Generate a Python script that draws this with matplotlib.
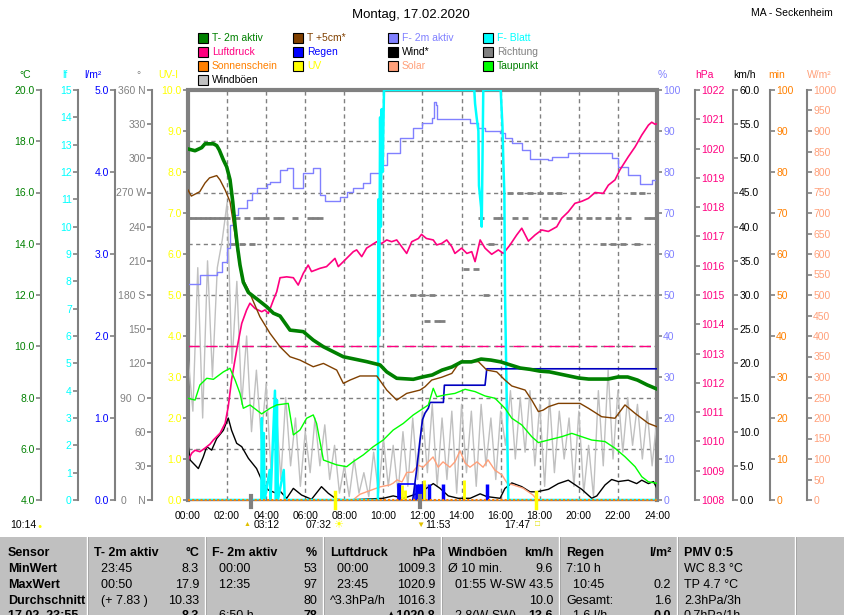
import numpy as np
import matplotlib
matplotlib.use('Agg')
import matplotlib.pyplot as plt
import matplotlib.transforms as mtrans
from matplotlib.patches import Rectangle
from matplotlib.lines import Line2D

plt.rcParams['font.family'] = ['Liberation Sans', 'DejaVu Sans']

# ---- data (hours since midnight) ----
t2m_t = [0, 0.36, 0.7, 0.87, 1.3, 1.47, 1.6, 1.81, 1.98, 2.15, 2.29, 2.41, 2.52, 2.66, 2.83, 3.09,
         3.6, 4.03, 4.37, 4.71, 5.22, 5.9, 6.41, 6.93, 7.95, 9.14, 9.83, 10.17, 10.68, 11.53,
         12.0, 12.5, 13.0, 13.5, 14.0, 14.5, 15.0, 15.5, 16.0, 16.5, 17.0, 17.5, 18.0, 18.5,
         19.0, 19.5, 20.0, 20.5, 21.0, 21.5, 22.0, 22.5, 23.0, 23.5, 24.0]
t2m_v = [17.7, 17.63, 17.75, 17.9, 17.9, 17.83, 17.66, 17.27, 17.0, 16.5, 15.64, 14.7, 13.95, 13.17,
         12.5, 12.1, 11.8, 11.54, 11.29, 11.18, 10.63, 10.57, 10.24, 9.98, 9.59, 9.4, 9.27, 9.0,
         8.75, 8.71, 8.8, 8.88, 9.07, 9.19, 9.39, 9.39, 9.5, 9.46, 9.39, 9.27, 9.15, 9.1, 9.03,
         9.0, 8.92, 8.84, 8.76, 8.72, 8.72, 8.72, 8.8, 8.8, 8.68, 8.49, 8.33]

t5_t = [0, 0.17, 0.6, 0.87, 1.1, 1.47, 1.64, 1.9, 2.15, 2.32, 2.49, 2.75, 3.09, 3.68, 4.2, 4.71,
        5.22, 5.73, 6.41, 6.93, 7.61, 7.95, 8.29, 8.8, 9.66, 10.17, 10.68, 11.19, 11.87, 12.13,
        12.47, 12.98, 13.5, 13.92, 14.86, 15.29, 15.8, 16.22, 16.57, 17.25, 17.59, 17.93, 18.18,
        18.44, 18.95, 20.06, 20.49, 21.17, 21.85, 22.36, 22.88, 23.56, 24.0]
t5_v = [16.1, 15.86, 16.03, 16.37, 16.57, 16.66, 16.49, 16.1, 15.64, 14.8, 13.9, 12.7, 12.2, 11.15,
        10.5, 9.98, 9.59, 9.46, 9.2, 9.33, 9.07, 8.55, 8.68, 8.84, 8.84, 8.29, 7.9, 8.16, 8.29,
        8.42, 8.68, 8.79, 8.94, 9.4, 9.4, 9.07, 9.0, 8.68, 8.45, 8.29, 7.9, 7.45, 7.51, 7.64, 7.77,
        7.77, 7.58, 7.25, 7.19, 7.71, 7.38, 6.99, 6.86]

dew_t = [0, 0.36, 0.61, 0.96, 1.3, 1.81, 2.15, 2.41, 2.66, 2.83, 3.17, 3.77, 4.2, 4.54, 5.13, 5.39,
         5.73, 6.07, 6.41, 6.58, 6.93, 7.61, 8.12, 8.46, 8.97, 9.48, 9.99, 10.5, 11.02, 11.53,
         12.3, 12.55, 12.73, 13.15, 13.66, 14.18, 14.69, 15.2, 15.71, 16.22, 16.57, 17.08, 17.59,
         17.93, 18.44, 19.12, 19.64, 20.15, 20.66, 21.34, 21.85, 22.36, 22.88, 23.22, 23.56, 24.0]
dew_v = [7.97, 7.9, 8.49, 8.75, 8.71, 9.0, 9.14, 8.68, 8.16, 7.58, 7.71, 7.36, 7.58, 7.71, 7.77,
         6.54, 6.73, 7.19, 7.32, 6.99, 5.56, 5.37, 5.3, 5.5, 5.76, 6.08, 6.34, 6.73, 6.99, 7.32,
         7.71, 8.36, 8.03, 8.1, 8.16, 8.32, 8.23, 8.06, 7.97, 7.58, 7.19, 6.93, 6.47, 6.24, 6.34,
         6.47, 6.6, 6.47, 6.34, 6.28, 6.02, 5.69, 5.3, 4.91, 4.71, 4.65]

hum_t = [0, 0.43, 0.6, 1.3, 1.47, 1.74, 1.98, 2.15, 2.32, 2.58, 3.0, 3.26, 3.51, 4.03, 4.2, 4.71,
         5.05, 5.39, 5.56, 5.9, 6.41, 6.75, 7.0, 7.78, 8.12, 8.46, 8.97, 9.31, 9.82, 10.16, 10.84,
         11.53, 11.95, 12.47, 12.6, 12.67, 12.73, 14.27, 14.44, 14.86, 15.2, 15.97, 16.22, 16.57,
         17.08, 17.5, 18.44, 18.61, 19.46, 21.25, 21.68, 22.02, 22.53, 23.13, 23.73, 23.76, 24.0]
hum_v = [52.8, 52.8, 54.9, 54.9, 55.7, 58.1, 61.4, 67, 69.5, 71.1, 73.2, 74.8, 76, 77, 77.6, 80.5,
         80.9, 76, 76, 79.7, 80.9, 74.4, 72.9, 74, 75.2, 76, 77.2, 79.7, 81.7, 84.6, 88.2, 90.7,
         91.9, 93.1, 97.1, 96.3, 92.9, 92.9, 91.9, 90.8, 90, 89.4, 88.2, 87, 85.4, 83.2, 82.9, 83.7,
         84.7, 84.7, 83.3, 81.3, 79.3, 77, 77, 78, 78]

pres_t = [0, 0.19, 0.36, 0.61, 0.87, 1.13, 1.3, 1.64, 1.9, 2.06, 2.23, 2.49, 2.75, 3.0, 3.17, 3.43,
          3.77, 3.94, 4.11, 4.37, 4.54, 4.71, 5.05, 5.39, 5.64, 5.9, 6.15, 6.32, 6.75, 7.09, 7.52,
          7.69, 7.95, 8.46, 8.63, 8.89, 9.14, 9.4, 9.66, 9.91, 10.17, 10.42, 10.68, 11.19, 11.45,
          11.79, 11.95, 12.2, 12.55, 12.73, 12.98, 13.24, 13.5, 13.66, 14.0, 14.27, 14.52, 14.69,
          14.95, 15.2, 15.54, 15.88, 16.14, 16.48, 16.82, 17.08, 17.42, 17.76, 18.1, 18.44, 18.87,
          19.12, 19.46, 19.8, 20.15, 20.49, 20.83, 21.25, 21.51, 21.85, 22.1, 22.53, 22.88, 23.22,
          23.56, 23.73, 23.9, 24.0]
pres_v = [1009.35, 1009.6, 1009.7, 1009.65, 1009.77, 1009.91, 1010.05, 1010.28, 1010.62, 1011.19,
          1012.1, 1013.12, 1014.03, 1014.49, 1014.72, 1014.54, 1014.43, 1014.49, 1014.37, 1014.83,
          1015.11, 1015.59, 1015.62, 1015.59, 1015.34, 1015.74, 1016.02, 1015.8, 1015.91, 1015.97,
          1016.25, 1015.97, 1016.14, 1016.48, 1016.54, 1016.31, 1016.6, 1016.71, 1016.82, 1016.76,
          1016.88, 1016.82, 1016.88, 1016.42, 1016.82, 1016.93, 1017.07, 1016.93, 1016.88, 1016.71,
          1016.76, 1016.88, 1016.65, 1016.42, 1016.6, 1016.42, 1016.48, 1016.14, 1016.88, 1016.6,
          1016.39, 1016.54, 1016.42, 1016.71, 1017.05, 1017.28, 1016.84, 1017.05, 1017.22, 1017.17,
          1017.33, 1017.62, 1017.84, 1018.13, 1018.2, 1018.3, 1018.5, 1018.47, 1018.75, 1018.93,
          1019.27, 1019.72, 1020.06, 1020.46, 1020.8, 1020.9, 1020.83, 1020.85]
pres_norm = 1013.25

wind_t = [0, 0.11, 0.53, 0.78, 0.96, 1.21, 1.47, 1.81, 2.06, 2.23, 2.49, 2.75, 3.09, 3.51, 3.85,
          4.11, 4.45, 4.71, 5.05, 5.39, 5.81, 6.32, 6.83, 7.18, 7.61, 8.12, 9.99, 10.5, 11.02,
          11.53, 11.94, 12.55, 12.9, 13.32, 13.83, 14.44, 14.95, 15.29, 15.97, 16.22, 16.57, 17.08,
          17.5, 17.85, 18.44, 18.95, 19.46, 20.15, 20.66, 20.92, 21.34, 21.68, 22.02, 22.53, 22.96,
          23.22, 23.56, 23.82, 24.0]
wind_v = [8.05, 5.85, 4.6, 6.3, 7.8, 7.3, 9.0, 10.2, 12.0, 10.2, 8.3, 7.8, 6.1, 4.6, 2.4, 1.46,
          1.07, 1.3, 0.25, 1.7, 0.73, 0.1, 1.95, 0.98, 0.1, 0.0, 0.25, 0.6, 0.25, 0.73, 1.2, 2.4,
          1.7, 0.6, 0.25, 0.25, 0.9, 0.5, 0.25, 1.7, 2.5, 1.95, 1.2, 1.2, 1.56, 2.4, 2.9, 1.56,
          0.25, 0.6, 2.2, 3.0, 2.7, 2.9, 2.4, 2.9, 2.4, 2.7, 1.7]

# gusts and direction: one value every 15 minutes
gust_v = [21, 13, 34, 12, 35, 18, 34, 38, 43.5, 20, 32, 14, 24, 10, 19, 9, 17, 4, 14, 3, 15, 5,
          12, 2, 10, 4, 12, 5, 11, 3, 8, 1, 5, 0.5, 6, 1, 4, 0.5, 7, 1, 9, 2, 8, 1, 10, 2, 12, 3,
          13, 4, 14, 2, 12, 3, 13, 1, 14, 4, 13, 2, 14, 5, 12, 3, 13, 8, 16, 6, 15, 7, 16, 5, 14,
          2, 15, 4, 13, 6, 12, 2, 13, 1, 8, 0.5, 16, 5, 19, 6, 16, 7, 15, 8, 14, 6, 13, 5, 12]
nan = np.nan
dir_v = [247.5] * 9 + [225, 247.5, 225, 247.5, 225, 247.5, 247.5, 247.5,
         nan, 247.5, 247.5, nan, nan, 247.5, nan, nan, 247.5, 247.5, 247.5, nan] + [nan] * 17 + \
        [180, nan, 180, 157.5, 180, 157.5, 157.5, nan, nan, nan, nan,
         202.5, nan, 202.5, 247.5, 180, 225, 247.5, 247.5, nan, 270, 247.5, 270, 247.5, 270, nan,
         270, 247.5, 270, 247.5, 270, nan, 247.5, nan, 247.5, nan, 247.5, nan, 247.5, 225, 247.5,
         225, 247.5, 225, 247.5, 270, 225, 270, 247.5, 247.5, 247.5]

leaf_t = [0, 3.75, 3.78, 3.82, 3.88, 3.92, 4.18, 4.22, 4.45, 4.5, 4.55, 4.6, 4.9, 4.95, 9.72, 9.74,
          9.78, 9.83, 9.87, 9.91, 9.96, 10.03, 14.65, 14.69, 14.77, 14.86, 14.89, 15.0, 15.03,
          15.11, 16.0, 16.09, 16.14, 16.19, 16.22, 16.39, 24]
leaf_v = [0, 0, 3.0, 0, 2.45, 0, 1.1, 0, 4.0, 0, 3.66, 0, 1.1, 0, 0, 11.0, 6.0, 14.0, 10.0, 14.3,
          12.0, 15, 15, 14.5, 14.0, 13.5, 11.5, 10.7, 10.0, 15, 15, 13.7, 12.3, 11.2, 7.7, 0, 0]

sol_t = [8.44, 8.8, 9.14, 9.83, 10.34, 10.5, 10.7, 10.95, 11.19, 11.5, 11.77, 12.03, 12.54, 12.8,
         13.05, 13.4, 13.66, 13.92, 14.18, 14.43, 14.79, 15.1, 15.35, 15.7, 16.07, 16.33, 16.63,
         17.14, 17.66, 17.86]
sol_v = [0, 14, 20, 32, 37, 41, 49, 44, 67, 68, 85, 80, 105, 80, 93, 80, 93, 120, 90, 80, 93, 80,
         98, 73, 61, 41, 37, 29, 12, 0]

sun_t = [0, 24]
sun_v = [0, 0]

uv_t = [10.95, 11.12, 12.1, 14.1]
uv_v = [0.37, 0.24, 0.5, 0.5]

rain_t = [10.8, 11.7, 11.8, 11.9, 12.0, 12.1, 12.34, 13.07, 15.29]
rain_v = [0.2, 0.2, 0.2, 0.2, 0.2, 0.2, 0.2, 0.2, 0.2]
rainbox_t = [10.76, 10.76, 11.61, 11.61]
rainbox_v = [0, 0.2, 0.2, 0]
rsum_t = [11.5, 11.7, 11.87, 12.0, 12.13, 12.3, 12.38, 13.07, 13.12, 15.2, 15.29, 24]
rsum_v = [0, 0.37, 0.73, 0.98, 1.06, 1.12, 1.19, 1.19, 1.40, 1.40, 1.60, 1.60]

moon_t = [3.2, 11.883]
sunrs_t = [7.533, 17.783]

leg_names = ['T- 2m aktiv', 'T +5cm*', 'F- 2m aktiv', 'F- Blatt',
             'Luftdruck', 'Regen', 'Wind*', 'Richtung',
             'Sonnenschein', 'UV', 'Solar', 'Taupunkt', 'Windböen']
leg_box = ['#008000', '#804000', '#8080ff', '#00ffff',
           '#ff0080', '#0000ff', '#000000', '#808080',
           '#ff8000', '#ffff00', '#ffa07a', '#00ff00', '#c0c0c0']
leg_txt = ['#008000', '#804000', '#8080ff', '#00ffff',
           '#ff0080', '#0000ff', '#000000', '#808080',
           '#ff8000', '#ffff00', '#ffa07a', '#008000', '#000000']

tab_head = ['Sensor', 'MinWert', 'MaxWert', 'Durchschnitt', '17.02. 23:55']
tab_cols = [
    [('T- 2m aktiv', '°C'), ('  23:45', '8.3'), ('  00:50', '17.9'), ('  (+ 7.83 )', '10.33'), ('', '8.3')],
    [('F- 2m aktiv', '%'), ('  00:00', '53'), ('  12:35', '97'), ('', '80'), ('  6:50 h', '78')],
    [('Luftdruck', 'hPa'), ('  00:00', '1009.3'), ('  23:45', '1020.9'), ('^3.3hPa/h', '1016.3'), ('', '▲1020.8')],
    [('Windböen', 'km/h'), ('Ø 10 min.', '9.6'), ('  01:55', 'W-SW 43.5'), ('', '10.0'), ('  2.8(W-SW)', '13.6')],
    [('Regen', 'l/m²'), ('7:10 h', ''), ('  10:45', '0.2'), ('Gesamt:', '1.6'), ('  1.6 l/h', '0.0')],
    [('PMV 0:5', ''), ('WC 8.3 °C', ''), ('TP 4.7 °C', ''), ('2.3hPa/3h', ''), ('0.7hPa/1h', '')],
]

# ---- layout (pixels) ----
W, H = 845, 615
L, R, T, B = 188, 657, 90, 500
GRAY = '#808080'
fig = plt.figure(figsize=(W / 100, H / 100), dpi=100)
rect = [L / W, 1 - B / H, (R - L) / W, (B - T) / H]


def fx(x):
    return x / W


def fy(y):
    return 1 - y / H


def scale_axes(lo, hi, step, color, side, xpix, fmt, z, names=None):
    a = fig.add_axes(rect)
    a.set_zorder(z)
    a.patch.set_visible(False)
    a.set_xlim(0, 24)
    a.set_ylim(lo, hi)
    for s in a.spines.values():
        s.set_visible(False)
    sp = a.spines[side]
    sp.set_visible(True)
    sp.set_position(('axes', (xpix - L) / (R - L)))
    sp.set_color(GRAY)
    sp.set_linewidth(1.5)
    n = int(round((hi - lo) / step))
    ticks = [lo + k * step for k in range(n + 1)]
    a.yaxis.set_ticks_position(side)
    a.set_yticks(ticks)
    labs = [fmt.format(t) for t in ticks]
    if names:
        labs = [names.get(int(t), l) for t, l in zip(ticks, labs)]
    a.set_yticklabels(labs)
    a.tick_params(axis='y', direction='out', length=3.5, width=1.2, color=GRAY,
                  labelcolor=color, labelsize=7.5, pad=1)
    a.tick_params(axis='x', bottom=False, labelbottom=False)
    return a


# base axes: grid, frame and time labels
base = fig.add_axes(rect)
base.set_zorder(0)
base.set_xlim(0, 24)
base.set_ylim(4, 20)
for s in base.spines.values():
    s.set_visible(False)
base.set_xticks(range(0, 25, 2))
base.set_xticklabels([f'{h:02d}:00' for h in range(0, 25, 2)])
base.set_yticks(np.arange(4, 21, 2))
base.tick_params(axis='x', length=0, pad=8, labelsize=7.5)
base.tick_params(axis='y', left=False, labelleft=False)
base.grid(True, color=GRAY, lw=1, ls=(0, (3, 2.5)))
base.plot([0, 0, 1, 1], [0, 1, 1, 0], transform=base.transAxes, color=GRAY, lw=3,
          clip_on=False, solid_joinstyle='miter', zorder=5)
base.plot([0, 1], [0, 0], transform=base.transAxes, color=GRAY, lw=1, clip_on=False, zorder=5)

ax_kmh = scale_axes(0, 60, 5, '#000000', 'right', 733, '{:.1f}', 1)
ax_kmh.plot(np.arange(len(gust_v)) * 0.25, gust_v, color='#c0c0c0', lw=1)
ax_kmh.plot(wind_t, wind_v, color='black', lw=1)

dir_names = {360: '360 N', 270: '270 W', 180: '180 S', 90: '90  O', 0: '0    N'}
ax_dir = scale_axes(0, 360, 30, GRAY, 'left', 152, '{:d}', 2, dir_names)
ax_dir.plot(np.arange(len(dir_v)) * 0.25, dir_v, ls='none', marker='_', ms=4.5, mew=2, color=GRAY)

ax_sol = scale_axes(0, 1000, 50, '#ffa07a', 'right', 807, '{:d}', 3)
ax_sol.plot(sol_t, sol_v, color='#ffa07a', lw=1)

ax_hum = scale_axes(0, 100, 10, '#8080ff', 'right', 657, '{:d}', 5)
ax_hum.plot(hum_t, hum_v, color='#8080ff', lw=1, drawstyle='steps-post')

ax_hpa = scale_axes(1008, 1022, 1, '#ff0080', 'right', 695, '{:d}', 6)
ax_hpa.axhline(pres_norm, color='#ff0080', lw=1, ls=(0, (8, 5)))
ax_hpa.plot(pres_t, pres_v, color='#ff0080', lw=1.2)

ax_lf = scale_axes(0, 15, 1, '#00ffff', 'left', 78, '{:d}', 7)
ax_lf.plot(leaf_t, leaf_v, color='#00ffff', lw=1.8)

ax_rain = scale_axes(0, 5, 1, '#0000ff', 'left', 115, '{:.1f}', 8)
ax_rain.vlines(rain_t, 0, rain_v, color='#0000ff', lw=2.5)
ax_rain.plot(rainbox_t, rainbox_v, color='#0000ff', lw=1.2)
ax_rain.plot(rsum_t, rsum_v, color='#0000c0', lw=1.2)

ax_uv = scale_axes(0, 10, 1, '#ffff00', 'left', 188, '{:.1f}', 9)
ax_uv.vlines(uv_t, 0, uv_v, color='#ffff00', lw=2)

ax_t = scale_axes(4, 20, 2, '#008000', 'left', 41, '{:.1f}', 10)
ax_t.plot(dew_t, dew_v, color='#00ff00', lw=1)
ax_t.plot(t5_t, t5_v, color='#804000', lw=1)
ax_t.plot(t2m_t, t2m_v, color='#008000', lw=2.6)

# sunshine minutes stay zero all day: dotted orange line on the base line
ax_min = scale_axes(0, 100, 10, '#ff8000', 'right', 770, '{:d}', 11)
ax_min.plot(sun_t, sun_v, color='#ff8000', lw=1.5, ls=(0, (1, 1)), clip_on=False)

# sun / moon events under the time axis
ev = mtrans.blended_transform_factory(base.transData, base.transAxes)
for t in moon_t:
    ax_min.add_line(Line2D([t, t], [-0.018, 0.01], transform=ev, color=GRAY, lw=3, clip_on=False))
for t in sunrs_t:
    ax_min.add_line(Line2D([t, t], [-0.02, 0.02], transform=ev, color='#ffff00', lw=2.5, clip_on=False))

yrow = (B - 525) / (B - T)
evt_fs = 7.5
fig.text(fx(10), fy(525), '10:14', fontsize=evt_fs, va='center')
fig.text(fx(37), fy(526), '●', fontsize=5, color='#ffff00', va='center')
o = lambda dx: mtrans.offset_copy(ev, fig, x=dx, y=0, units='dots')
base.text(moon_t[0], yrow, '▲', transform=o(-4), fontsize=5, color='#e0c000', ha='center', va='center')
base.text(moon_t[0], yrow, '03:12', transform=o(3), fontsize=evt_fs, ha='left', va='center')
base.text(sunrs_t[0], yrow, '07:32', transform=o(-4), fontsize=evt_fs, ha='right', va='center')
base.text(sunrs_t[0], yrow, '☀', transform=o(3), fontsize=8, color='#ffff00', ha='center', va='center')
base.text(moon_t[1], yrow, '▼', transform=o(0), fontsize=6, color='#e0c000', ha='center', va='center')
base.text(moon_t[1], yrow, '11:53', transform=o(5), fontsize=evt_fs, ha='left', va='center')
base.text(sunrs_t[1], yrow, '17:47', transform=o(-5), fontsize=evt_fs, ha='right', va='center')
base.text(sunrs_t[1], yrow, '□', transform=o(2), fontsize=6, color='#e0e000', ha='center', va='center')

# titles
fig.text(fx(411), fy(15), 'Montag, 17.02.2020', ha='center', va='center', fontsize=9.5)
fig.text(fx(792), fy(13), 'MA - Seckenheim', ha='center', va='center', fontsize=7.5)

units = [('°C', 25, '#008000'), ('lf', 65, '#00ffff'), ('l/m²', 93, '#0000ff'), ('°', 138, GRAY),
         ('UV-I', 168, '#ffff00'), ('%', 662, '#8080ff'), ('hPa', 704, '#ff0080'),
         ('km/h', 745, '#000000'), ('min', 777, '#ff8000'), ('W/m²', 819, '#ffa07a')]
for txt, x, c in units:
    fig.text(fx(x), fy(75), txt, ha='center', va='center', fontsize=7.5, color=c)

# legend
for i, (name, bc, tc) in enumerate(zip(leg_names, leg_box, leg_txt)):
    col, row = i % 4, i // 4
    x0, y0 = 198 + col * 95, 38 + row * 14
    fig.add_artist(Rectangle((fx(x0), fy(y0 + 5)), 10 / W, 10 / H, transform=fig.transFigure,
                             fc=bc, ec='black', lw=0.8))
    fig.text(fx(x0 + 14), fy(y0), name, color=tc, fontsize=7.5, va='center')

# summary table
fig.add_artist(Rectangle((0, 0), 1, fy(537), transform=fig.transFigure, fc='#c0c0c0', ec='none'))
seps = [87, 205, 323, 441, 559, 677, 795]
for s in seps:
    fig.add_artist(Line2D([fx(s), fx(s)], [0, fy(537)], transform=fig.transFigure, color='white', lw=1))
    fig.add_artist(Line2D([fx(s + 1), fx(s + 1)], [0, fy(537)], transform=fig.transFigure, color='#a0a0a0', lw=0.6))
rows_y = [553, 569, 585, 601, 616]
tfont = ['Liberation Sans Narrow', 'Liberation Sans', 'DejaVu Sans']
for y, lab in zip(rows_y, tab_head):
    fig.text(fx(8), fy(y), lab, fontsize=9, fontweight='bold', family=tfont, va='center')
for ci, col in enumerate(tab_cols):
    x0, x1 = seps[ci], seps[ci + 1]
    for ri, (left, right) in enumerate(col):
        w = 'bold' if ri in (0, 4) else 'normal'
        fig.text(fx(x0 + 7), fy(rows_y[ri]), left, fontsize=9, fontweight='bold' if ri == 0 else 'normal',
                 family=tfont, va='center')
        if right:
            fig.text(fx(x1 - 6), fy(rows_y[ri]), right, fontsize=9, fontweight=w,
                     family=tfont, va='center', ha='right')

fig.savefig('out.png', dpi=100)
